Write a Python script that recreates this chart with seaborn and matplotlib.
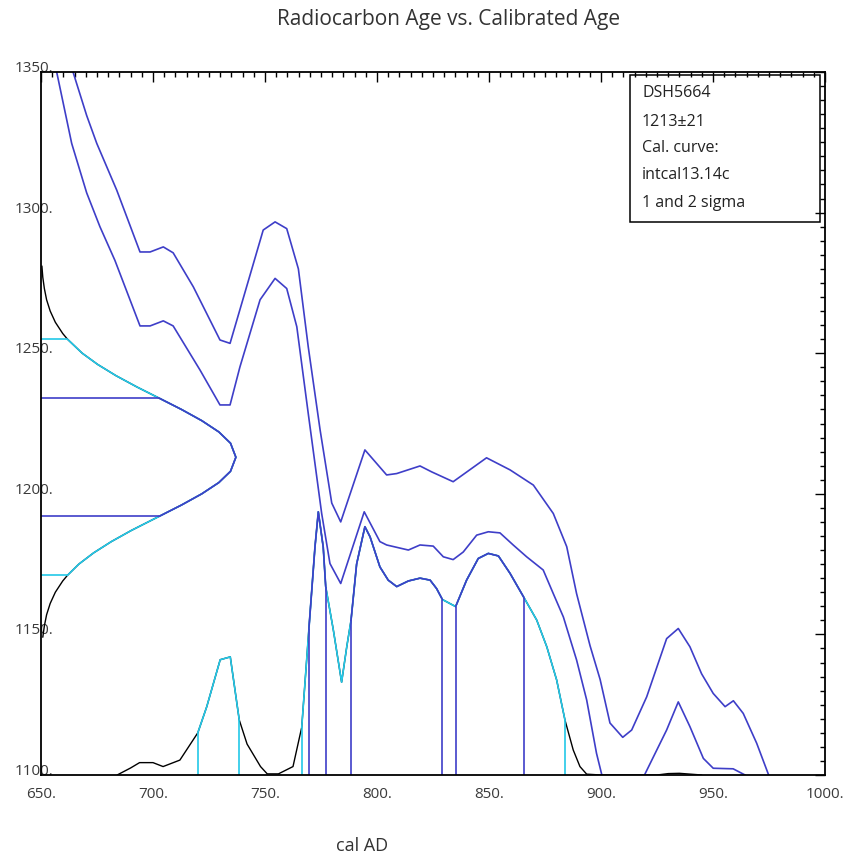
import matplotlib
matplotlib.use("Agg")
import matplotlib.pyplot as plt
from matplotlib.patches import Rectangle
from matplotlib.ticker import MultipleLocator
import seaborn as sns

# radiocarbon measurement 1213 +/- 21, drawn sideways from the left edge
rc_age = [1149, 1153, 1157, 1161, 1165, 1169, 1171, 1175, 1179, 1183, 1187,
          1192, 1196, 1200, 1204, 1208, 1213, 1218, 1222, 1226, 1230, 1234,
          1238, 1242, 1246, 1250, 1255, 1257, 1261, 1265, 1269, 1273, 1277, 1281]
rc_width = [0.8, 1.5, 2.5, 4.1, 6.4, 9.7, 11.8, 16.9, 23.5, 31.4, 40.4,
            52.8, 62.7, 71.8, 79.4, 84.6, 87.0, 84.6, 79.4, 71.8, 62.7, 52.8,
            42.8, 33.5, 25.3, 18.4, 11.8, 9.7, 6.4, 4.1, 2.5, 1.5, 0.8, 0.4]
rc_1sigma = [1192, 1234]
rc_2sigma = [1171, 1255]

# calibration curve band, upper and lower edges
curve_hi_year = [660, 664.3, 670.4, 674.9, 683.8, 694.2, 698.7, 704.6, 709, 718,
                 729.9, 734.4, 749.2, 754.5, 759.7, 764.9, 769.3, 774.6, 779.8,
                 783.8, 794.6, 804.3, 808.8, 819.2, 824.4, 834, 848.9, 859.4,
                 869.8, 878.7, 884.7, 889.1, 895.1, 899.6, 904, 909.7, 913.7,
                 920.4, 929.3, 934.5, 939.7, 944.9, 950.1, 955.4, 959.1, 963.5,
                 969.5, 974.7, 978]
curve_hi_age = [1361, 1350, 1334.5, 1324.6, 1308, 1286, 1286, 1287.8, 1285.7, 1273.6,
                1254.7, 1253.5, 1293.8, 1296.7, 1294.3, 1280, 1252.3, 1222.7, 1196.7,
                1190, 1215.6, 1206.7, 1207.2, 1209.9, 1207.8, 1204.3, 1212.8, 1208.5,
                1203.1, 1193, 1181.2, 1164.5, 1146, 1134, 1118.5, 1113.4, 1116,
                1127.8, 1148.5, 1152.1, 1145.6, 1136, 1129, 1124.3, 1126.4, 1121.9,
                1111.3, 1100.3, 1093]
curve_lo_year = [654, 657, 663.7, 670.4, 676.3, 683, 694.2, 698.7, 704.6, 709,
                 721, 729.9, 734.4, 738.8, 747.8, 754.5, 759.7, 764.2, 769.3,
                 775.3, 779, 783.8, 794.3, 801.3, 804.3, 814, 819.2, 825.1, 829.6,
                 834, 838.5, 844.5, 849.7, 854.9, 860.8, 866.8, 874.2, 878.7,
                 883.2, 889.1, 893.6, 898, 901, 910, 918, 919.6, 929.3, 934.5,
                 939.7, 945.7, 950.1, 959, 964.3, 968]
curve_lo_age = [1362, 1350, 1324.6, 1307, 1295, 1283, 1259.7, 1259.7, 1261.5, 1259.7,
                1244, 1231.6, 1231.6, 1245.1, 1269, 1276.6, 1273, 1259.4, 1228.6,
                1193, 1175.2, 1168.1, 1193.6, 1183, 1181.8, 1180, 1181.8, 1181.4, 1177.6,
                1176.6, 1179.3, 1185.3, 1186.5, 1186.1, 1181.8, 1177.6, 1172.9, 1164.5,
                1156.2, 1140.9, 1126.7, 1107.7, 1098, 1088, 1097, 1100.3, 1116, 1126,
                1117.2, 1105.9, 1102.4, 1102.2, 1100, 1097]

# calibrated probability, height above the bottom axis
prob_year = [684, 690, 694, 700, 704.5, 712, 720, 724, 730, 734.5, 738.5, 742,
             748, 751, 756, 762.5, 766.4, 768.6, 769.6, 772.3, 773.8, 776, 777.1,
             780.5, 784.2, 786.5, 788.4, 790.9, 794.6, 796.9, 801.3, 805, 808.8,
             814, 819.2, 823.7, 826.6, 829.2, 835.1, 840, 845.2, 849.7, 854.2,
             859.4, 865.6, 871.3, 875.8, 880.2, 883.9, 887.6, 890.6, 893.6, 900,
             925, 930, 935, 940, 945]
prob_height = [0, 2.5, 4.4, 4.4, 3.0, 5.3, 15, 24.3, 41, 42, 19.6, 11,
               3, 0.4, 0.4, 3, 17, 41, 52, 81, 93.6, 81, 67,
               51.6, 33, 45.6, 55, 75, 88.3, 84.7, 74, 69.3, 67,
               69, 70, 69.3, 66.3, 62.4, 59.9, 69.3, 77, 78.8, 77.9,
               71.7, 63.1, 55.1, 45.6, 33.8, 19.6, 8.9, 3, 0.3, 0,
               0, 0.5, 0.6, 0.3, 0]
range_2sigma = [(720, 738.5), (766.4, 883.9)]
range_1sigma = [(769.6, 777.1), (788.4, 829.2), (835.1, 865.6)]

info_lines = ["DSH5664", "1213\u00b121", "Cal. curve:", "intcal13.14c", "1 and 2 sigma"]

x_lim = (650, 1000)
y_lim = (1100, 1350)

BLUE = "#3e3ec8"
CYAN = "#22c8e8"
GRAY = "#3a3a3a"

sns.set_style("white")
plt.rcParams["font.family"] = ["Open Sans", "DejaVu Sans"]

fig = plt.figure(figsize=(8.51, 8.56), dpi=100)
ax = fig.add_axes([41 / 851, 1 - 775 / 856, 784 / 851, 703 / 856])


def pick(xs, ys, lo, hi):
    sel = [(a, b) for a, b in zip(xs, ys) if lo <= a <= hi]
    return [a for a, _ in sel], [b for _, b in sel]


# calibration band
sns.lineplot(x=curve_hi_year, y=curve_hi_age, sort=False, estimator=None,
             color=BLUE, lw=1.2, ax=ax)
sns.lineplot(x=curve_lo_year, y=curve_lo_age, sort=False, estimator=None,
             color=BLUE, lw=1.2, ax=ax)

# radiocarbon distribution on the left
rc_x = [x_lim[0] + w for w in rc_width]
sns.lineplot(x=rc_x, y=rc_age, sort=False, estimator=None, orient="y",
             color="black", lw=1.0, ax=ax)
a, b = pick(rc_age, rc_x, rc_2sigma[0], rc_2sigma[1])
sns.lineplot(x=b, y=a, sort=False, estimator=None, orient="y", color=CYAN, lw=1.2, ax=ax)
a, b = pick(rc_age, rc_x, rc_1sigma[0], rc_1sigma[1])
sns.lineplot(x=b, y=a, sort=False, estimator=None, orient="y", color=BLUE, lw=1.2, ax=ax)
for v in rc_2sigma:
    ax.hlines(v, x_lim[0], rc_x[rc_age.index(v)], color=CYAN, lw=1.2)
for v in rc_1sigma:
    ax.hlines(v, x_lim[0], rc_x[rc_age.index(v)], color=BLUE, lw=1.2)

# calibrated distribution at the bottom
prob_y = [y_lim[0] + h for h in prob_height]
sns.lineplot(x=prob_year, y=prob_y, sort=False, estimator=None, color="black", lw=1.0, ax=ax)
for lo, hi in range_2sigma:
    xs, ys = pick(prob_year, prob_y, lo, hi)
    sns.lineplot(x=xs, y=ys, sort=False, estimator=None, color=CYAN, lw=1.2, ax=ax)
    for v in (lo, hi):
        ax.vlines(v, y_lim[0], prob_y[prob_year.index(v)], color=CYAN, lw=1.2)
for lo, hi in range_1sigma:
    xs, ys = pick(prob_year, prob_y, lo, hi)
    sns.lineplot(x=xs, y=ys, sort=False, estimator=None, color=BLUE, lw=1.2, ax=ax)
    for v in (lo, hi):
        ax.vlines(v, y_lim[0], prob_y[prob_year.index(v)], color=BLUE, lw=1.2)

ax.set_xlim(*x_lim)
ax.set_ylim(*y_lim)
ax.set_xlabel("")
ax.set_ylabel("")

# axes frame and ticks
for s in ax.spines.values():
    s.set_visible(True)
    s.set_color("black")
    s.set_linewidth(1.3)
ax.xaxis.set_major_locator(MultipleLocator(50))
ax.xaxis.set_minor_locator(MultipleLocator(5))
ax.yaxis.set_major_locator(MultipleLocator(50))
ax.yaxis.set_minor_locator(MultipleLocator(5))
ax.tick_params(which="both", direction="in", top=True, right=True, color="black", width=1)
ax.tick_params(which="major", length=7)
ax.tick_params(which="minor", length=3.5)
ax.tick_params(axis="x", pad=9, labelsize=11, labelcolor=GRAY)
ax.tick_params(axis="y", pad=-9, labelsize=11, labelcolor=GRAY)
ax.set_xticks(range(650, 1001, 50))
ax.set_xticklabels([f"{t}." for t in range(650, 1001, 50)])
ax.set_yticks(range(1100, 1351, 50))
ax.set_yticklabels([f"{t}." for t in range(1100, 1351, 50)])
for lab in ax.get_yticklabels():
    lab.set_va("baseline")

# info box
ax.add_patch(Rectangle((0.751, 0.7866), 0.2426, 0.209, transform=ax.transAxes,
                       fill=False, ec="black", lw=1.1, zorder=5))
for txt, yy in zip(info_lines, [0.970, 0.929, 0.892, 0.8535, 0.8137]):
    ax.text(0.7666, yy, txt, transform=ax.transAxes, ha="left", va="center",
            fontsize=11.5, color="#222222", zorder=6)

fig.text(449 / 851, 1 - 20 / 856, "Radiocarbon Age vs. Calibrated Age",
         ha="center", va="center", fontsize=15, color="#333333")
fig.text(362 / 851, 1 - 846 / 856, "cal AD", ha="center", va="center",
         fontsize=13, color="#333333")

fig.savefig("out.png", dpi=100)
